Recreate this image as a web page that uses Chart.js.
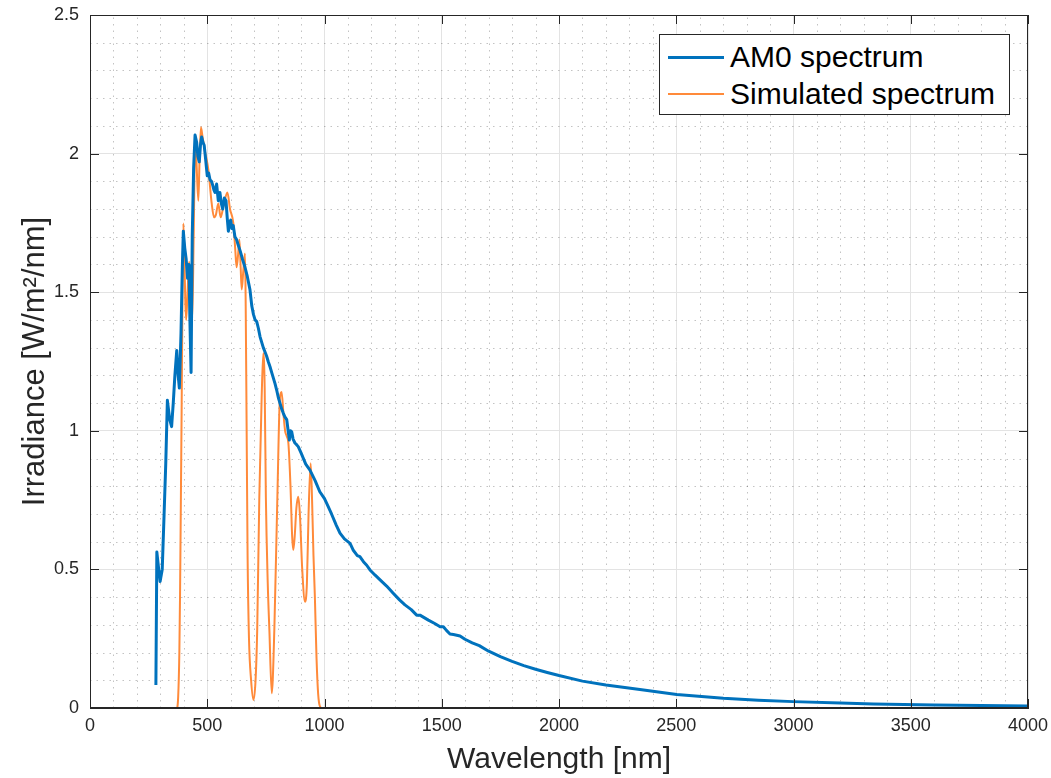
<!DOCTYPE html>
<html>
<head>
<meta charset="utf-8">
<script src="https://cdn.jsdelivr.net/npm/chart.js@4.4.1/dist/chart.umd.min.js"></script>
<style>
  body { margin: 0; background: #fff; }
  #wrap { position: relative; width: 1051px; height: 778px; }
  #legend {
    position: absolute; left: 659px; top: 34px; width: 349px; height: 79px;
    border: 1px solid #262626; background: #fff;
    font-family: "Liberation Sans", Arial, sans-serif; font-size: 30px; color: #000;
  }
  #legend .row { position: absolute; left: 0; height: 36px; line-height: 36px; white-space: nowrap; }
  #legend .sw { position: absolute; left: 8px; width: 56px; }
  #legend .lbl { position: absolute; left: 70px; }
</style>
</head>
<body>
<div id="wrap">
  <canvas id="spectrum" width="1051" height="778"></canvas>
  <div id="legend">
    <div class="row" style="top:4px"><div class="sw" style="top:17px;height:3px;background:#0072bd"></div><span class="lbl">AM0 spectrum</span></div>
    <div class="row" style="top:41px"><div class="sw" style="top:17px;height:2px;background:#ff8a3a"></div><span class="lbl">Simulated spectrum</span></div>
  </div>
</div>
<script>
// AM0 reference spectrum (nm, W/m^2/nm)
const am0Wavelength = [281, 285, 293, 299, 308, 316, 323, 330, 340, 348, 355, 362, 370, 376, 381, 388, 394, 398, 404, 410,
  416, 422, 426, 431, 436, 442, 448, 455, 460, 466, 471, 476, 482, 487, 493, 500, 506, 512, 518, 523,
  528, 533, 540, 547, 554, 560, 566, 573, 580, 585, 590, 595, 600, 605, 611, 618, 625, 632, 640, 650,
  661, 670, 682, 690, 697, 704, 711, 718, 725, 732, 739, 746, 753, 760, 768, 775, 782, 789, 796, 803,
  810, 817, 824, 831, 839, 845, 850, 855, 860, 866, 874, 881, 888, 900, 920, 938, 960, 980, 1000, 1009,
  1030, 1050, 1066, 1085, 1109, 1122, 1140, 1151, 1166, 1180, 1194, 1215, 1237, 1265, 1293, 1320, 1343, 1370, 1393, 1407,
  1443, 1470, 1493, 1507, 1520, 1535, 1550, 1578, 1599, 1630, 1660, 1700, 1750, 1800, 1850, 1900, 1950, 2000, 2100, 2200,
  2345, 2502, 2701, 2850, 2999, 3200, 3340, 3600, 3800, 4000];
const am0Irradiance = [0.083, 0.563, 0.50, 0.456, 0.50, 0.70, 0.88, 1.11, 1.04, 1.015, 1.10, 1.20, 1.29, 1.20, 1.154, 1.35, 1.60, 1.72, 1.66, 1.62,
  1.55, 1.60, 1.40, 1.21, 1.70, 1.95, 2.067, 2.04, 1.99, 1.97, 2.03, 2.06, 2.04, 2.03, 1.98, 1.92, 1.93, 1.905, 1.90, 1.887,
  1.87, 1.86, 1.89, 1.83, 1.86, 1.82, 1.80, 1.84, 1.83, 1.77, 1.72, 1.75, 1.76, 1.73, 1.74, 1.70, 1.69, 1.67, 1.65, 1.62,
  1.59, 1.56, 1.51, 1.45, 1.42, 1.40, 1.394, 1.37, 1.34, 1.32, 1.30, 1.285, 1.27, 1.25, 1.23, 1.21, 1.19, 1.17, 1.147, 1.12,
  1.10, 1.08, 1.064, 1.05, 1.04, 1.00, 0.967, 1.00, 0.997, 0.97, 0.956, 0.95, 0.943, 0.92, 0.88, 0.858, 0.82, 0.78, 0.755, 0.739,
  0.70, 0.66, 0.631, 0.61, 0.594, 0.57, 0.55, 0.546, 0.528, 0.515, 0.498, 0.48, 0.462, 0.44, 0.414, 0.39, 0.372, 0.355, 0.335, 0.335,
  0.317, 0.305, 0.293, 0.293, 0.28, 0.267, 0.265, 0.26, 0.248, 0.235, 0.225, 0.205, 0.185, 0.168, 0.153, 0.14, 0.128, 0.117, 0.097, 0.083,
  0.067, 0.049, 0.035, 0.028, 0.023, 0.018, 0.014, 0.011, 0.009, 0.007];

// simulated spectrum
const simWavelength = [300, 370, 376, 381, 384, 388, 391, 394, 398, 402, 406, 410, 416, 423, 429, 436, 442, 449, 455, 462,
  467, 473, 480, 490, 505, 519, 529, 537, 547, 557, 569, 586, 597, 611, 619, 625, 631, 637, 642, 647,
  654, 661, 664, 668, 672, 678, 687, 697, 706, 713, 722, 732, 739, 745, 750, 758, 765, 775, 786, 799,
  810, 817, 825, 832, 839, 846, 855, 862, 867, 873, 880, 888, 895, 905, 917, 925, 932, 941, 947, 953,
  959, 966, 973, 981, 990, 1095];
const simIrradiance = [0, 0, 0.04, 0.2, 0.41, 0.8, 1.1, 1.45, 1.748, 1.65, 1.48, 1.40, 1.5, 1.61, 1.5, 1.40, 1.7, 2.067, 1.95, 1.83,
  1.97, 2.095, 2.06, 2.01, 1.94, 1.82, 1.77, 1.78, 1.82, 1.77, 1.81, 1.86, 1.80, 1.75, 1.66, 1.59, 1.63, 1.69, 1.6, 1.51,
  1.58, 1.64, 1.45, 1.0, 0.55, 0.25, 0.1, 0.029, 0.1, 0.28, 0.76, 1.12, 1.28, 1.15, 0.76, 0.45, 0.28, 0.053, 0.28, 0.76,
  1.12, 1.14, 1.06, 1.0, 0.98, 0.955, 0.8, 0.62, 0.57, 0.62, 0.72, 0.762, 0.7, 0.5, 0.383, 0.45, 0.7, 0.883, 0.75, 0.55,
  0.40, 0.18, 0.05, 0.005, 0, 0];

const xTicks = [0, 500, 1000, 1500, 2000, 2500, 3000, 3500, 4000];
const yTicks = [0, 0.5, 1, 1.5, 2, 2.5];

const toPoints = (xs, ys) => xs.map((x, i) => ({ x: x, y: ys[i] }));
const axisColor = '#262626';
const fontFamily = '"Liberation Sans", Arial, sans-serif';

// dotted minor grid, box and inward ticks like MATLAB
const matlabAxes = {
  id: 'matlabAxes',
  beforeDatasetsDraw(chart) {
    const { ctx, chartArea: a, scales } = chart;
    ctx.save();
    ctx.strokeStyle = 'rgba(38,38,38,0.28)';
    ctx.lineWidth = 1;
    ctx.setLineDash([1.5, 5]);
    for (let v = 100; v < 4000; v += 100) {
      if (v % 500 === 0) continue;
      const px = Math.round(scales.x.getPixelForValue(v)) + 0.5;
      ctx.beginPath(); ctx.moveTo(px, a.bottom); ctx.lineTo(px, a.top); ctx.stroke();
    }
    for (let k = 1; k < 25; k++) {
      if (k % 5 === 0) continue;
      const py = Math.round(scales.y.getPixelForValue(k / 10)) + 0.5;
      ctx.beginPath(); ctx.moveTo(a.left, py); ctx.lineTo(a.right, py); ctx.stroke();
    }
    ctx.restore();
  },
  afterDatasetsDraw(chart) {
    const { ctx, chartArea: a, scales } = chart;
    ctx.save();
    ctx.strokeStyle = axisColor;
    ctx.lineWidth = 1;
    ctx.strokeRect(Math.round(a.left) + 0.5, Math.round(a.top) + 0.5,
      Math.round(a.right - a.left) - 1, Math.round(a.bottom - a.top) - 1);
    const len = 9;
    ctx.beginPath();
    xTicks.forEach(v => {
      const px = Math.round(scales.x.getPixelForValue(v)) + 0.5;
      ctx.moveTo(px, a.bottom); ctx.lineTo(px, a.bottom - len);
      ctx.moveTo(px, a.top); ctx.lineTo(px, a.top + len);
    });
    yTicks.forEach(v => {
      const py = Math.round(scales.y.getPixelForValue(v)) + 0.5;
      ctx.moveTo(a.left, py); ctx.lineTo(a.left + len, py);
      ctx.moveTo(a.right, py); ctx.lineTo(a.right - len, py);
    });
    ctx.stroke();
    ctx.restore();
  }
};

const ctx = document.getElementById('spectrum').getContext('2d');
new Chart(ctx, {
  type: 'line',
  data: {
    datasets: [{
      label: 'AM0 spectrum',
      data: toPoints(am0Wavelength, am0Irradiance),
      borderColor: '#0072bd',
      borderWidth: 3,
      pointRadius: 0,
      tension: 0,
      borderJoinStyle: 'round'
    }, {
      label: 'Simulated spectrum',
      data: toPoints(simWavelength, simIrradiance),
      borderColor: '#ff8a3a',
      borderWidth: 2,
      pointRadius: 0,
      cubicInterpolationMode: 'monotone'
    }]
  },
  options: {
    responsive: false,
    animation: false,
    devicePixelRatio: 1,
    layout: { padding: { top: 15, right: 23, left: 0, bottom: 0 } },
    plugins: {
      legend: { display: false },
      tooltip: { enabled: false }
    },
    scales: {
      x: {
        type: 'linear',
        min: 0,
        max: 4000,
        afterFit: s => { s.height = 70; s.paddingLeft = 0; s.paddingRight = 0; },
        afterBuildTicks: s => { s.ticks = xTicks.map(v => ({ value: v })); },
        ticks: {
          color: axisColor,
          font: { family: fontFamily, size: 18 },
          padding: 7,
          maxRotation: 0,
          callback: v => String(v)
        },
        grid: { color: '#e3e3e3', lineWidth: 1, drawTicks: false },
        border: { color: axisColor, width: 1 },
        title: {
          display: true,
          text: 'Wavelength [nm]',
          color: axisColor,
          font: { family: fontFamily, size: 30 },
          padding: { top: 0, bottom: 0 }
        }
      },
      y: {
        type: 'linear',
        min: 0,
        max: 2.5,
        afterFit: s => { s.width = 90; s.paddingTop = 0; s.paddingBottom = 0; },
        afterBuildTicks: s => { s.ticks = yTicks.map(v => ({ value: v })); },
        ticks: {
          color: axisColor,
          font: { family: fontFamily, size: 18 },
          padding: 11,
          callback: v => String(Number(v.toFixed(1)))
        },
        grid: { color: '#e3e3e3', lineWidth: 1, drawTicks: false },
        border: { color: axisColor, width: 1 },
        title: {
          display: true,
          text: 'Irradiance [W/m²/nm]',
          color: axisColor,
          font: { family: fontFamily, size: 31 },
          padding: { top: 17, bottom: 0 }
        }
      }
    }
  },
  plugins: [matlabAxes]
});
</script>
</body>
</html>
